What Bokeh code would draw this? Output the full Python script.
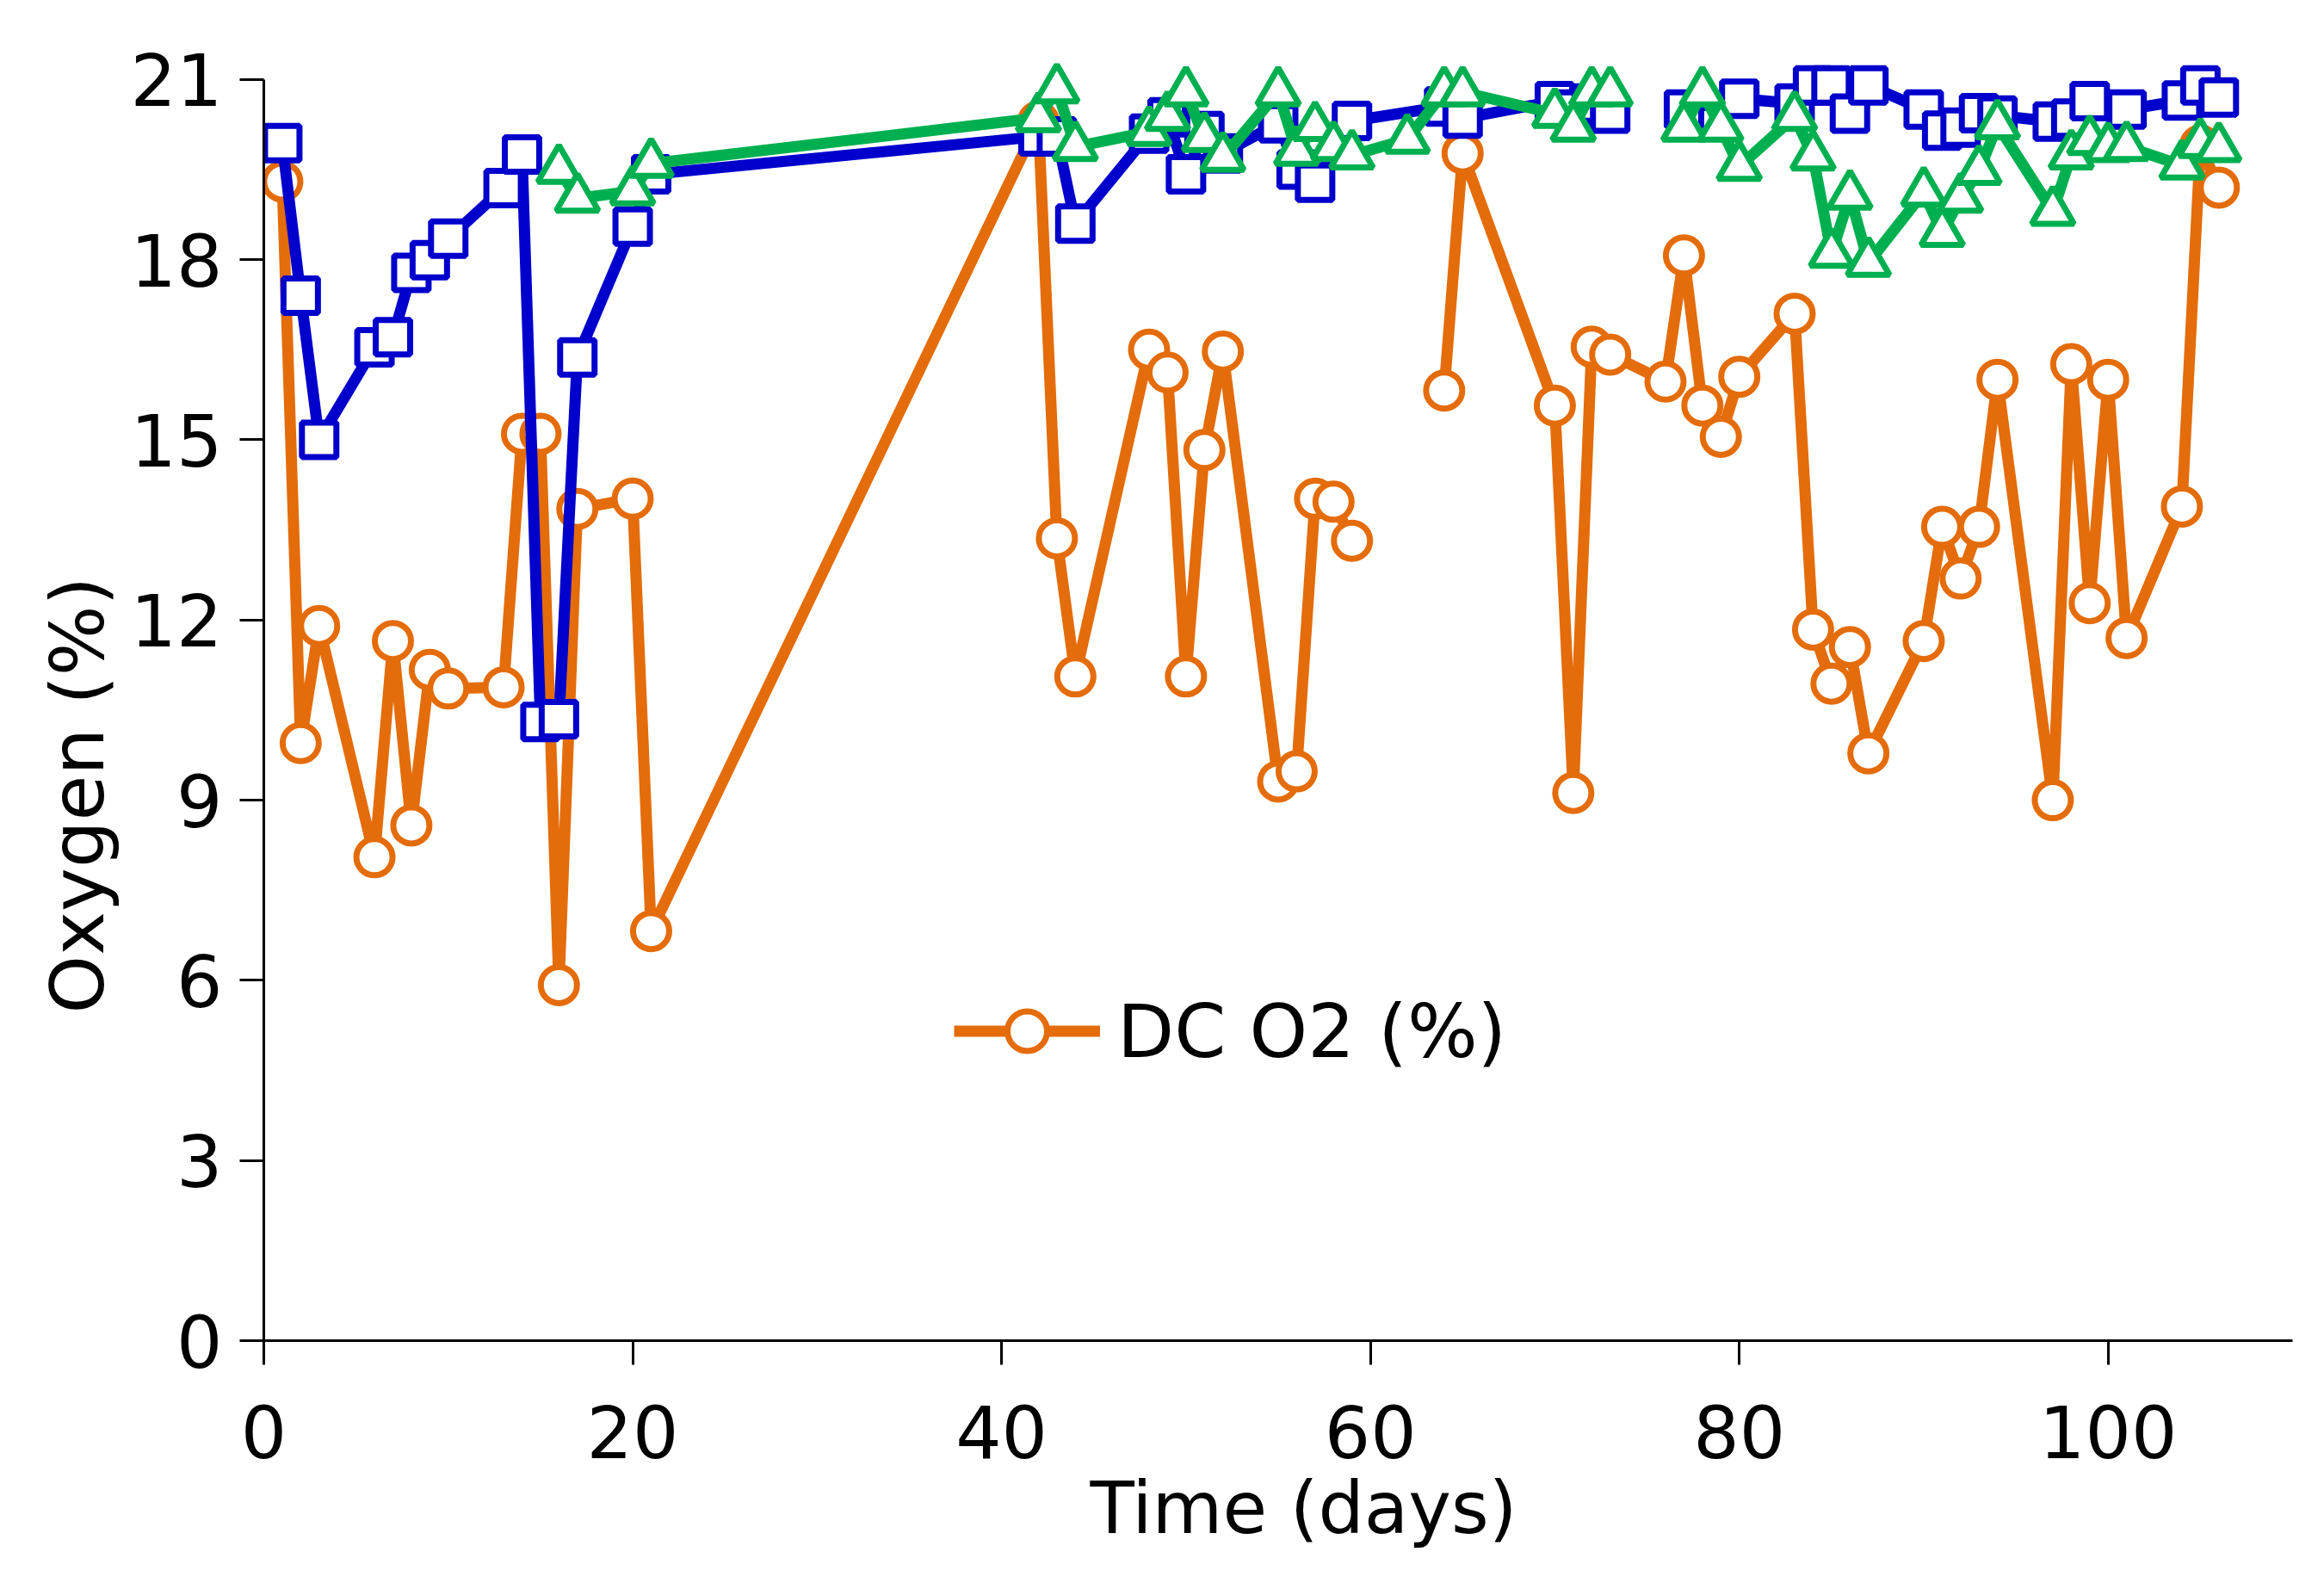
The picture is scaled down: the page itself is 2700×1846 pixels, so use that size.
from bokeh.plotting import figure
from bokeh.models import Range1d, FixedTicker, Title
from bokeh.embed import file_html
from bokeh.resources import INLINE

nan = float("nan")

# DC O2 (%) - orange circles (nan = break in the line)
dc_days = [1, 2, 3, 6, 7, 8, 9, 10, 13, 14, 15, 16, 17, 20, 21, 42, 43, 44, 48, 49,
           50, 51, 52, 55, 56, 57, 58, 59, 62, 64, 65, 70, 71, 72, 73, 76, 77, 78, 79, 80,
           83, 84, 85, 86, 87, 90, 91, 92, 93, 94, 97, 98, 99, 100, 101, 104, 105, 106]
dc_o2 = [19.3, 9.95, 11.9, 8.05, 11.65, 8.58, 11.17, 10.86, 10.88, 15.1, 15.1, 5.92, 13.85, 14.02, 6.82, 20.3, 13.36, 11.06, 16.5, 16.12,
         11.06, 14.83, 16.47, 9.31, 9.48, 14.02, 13.97, 13.32, nan, 15.82, 19.77, 15.57, 9.12, 16.55, 16.42, 15.97, 18.07, 15.57, 15.05, 16.05,
         17.1, 11.84, 10.94, 11.55, 9.78, 11.65, 13.55, 12.69, 13.55, 16.0, 9.0, 16.26, 12.28, 16.0, 11.7, 13.89, 19.9, 19.2]

# blue squares
sq_days = [1, 2, 3, 6, 7, 8, 9, 10, 13, 14, 15, 16, 17, 20, 21, 42, 43, 44, 48, 49,
           50, 51, 52, 55, 56, 57, 59, 64, 65, 70, 71, 72, 73, 75, 77, 80, 83, 84, 85, 86,
           87, 90, 91, 92, 93, 94, 97, 98, 99, 101, 104, 105, 106]
sq_o2 = [19.94, 17.4, 15.0, 16.54, 16.71, 17.78, 17.99, 18.35, 19.19, 19.75, 10.3, 10.35, 16.37, 18.55, 19.42, 20.05, 20.05, 18.6, 20.1, 20.37,
         19.42, 20.14, 19.77, 20.27, 19.5, 19.28, 20.31, 20.55, 20.35, 20.64, 20.5, 20.6, 20.43, nan, 20.5, 20.68, 20.6, 20.9, 20.9, 20.43,
         20.9, 20.5, 20.15, 20.2, 20.44, 20.4, 20.3, 20.35, 20.64, 20.5, 20.65, 20.9, 20.7]

# green triangles
tri_days = [16, 17, 20, 21, 42, 43, 44, 48, 49, 50, 51, 52, 55, 56, 57, 58, 59, 62, 64, 65,
            70, 71, 72, 73, 75, 77, 78, 79, 80, 83, 84, 85, 86, 87, 90, 91, 92, 93, 94, 97,
            98, 99, 100, 101, 104, 105, 106]
tri_o2 = [19.5, 19.02, 19.14, 19.6, 20.36, 20.84, 19.88, 20.13, 20.38, 20.79, 20.03, 19.7, 20.79, 19.8, 20.21, 19.88, 19.74, 20.0, 20.79, 20.79,
          20.43, 20.2, 20.79, 20.79, nan, 20.2, 20.79, 20.2, 19.55, 20.38, 19.72, 18.1, 19.07, 17.95, 19.12, 18.45, 19.02, 19.48, 20.24, 18.8,
          19.74, 19.98, 19.86, 19.88, 19.57, 19.93, 19.86]

x_ticks = [0, 20, 40, 60, 80, 100]
y_ticks = [0, 3, 6, 9, 12, 15, 18, 21]

ORANGE = "#E46C0A"
BLUE = "#0000CC"
GREEN = "#00B050"
FONT = "DejaVu Sans"

p = figure(width=2684, height=1830, output_backend="svg", toolbar_location=None,
           x_range=Range1d(0, 110), y_range=Range1d(0, 21.7),
           min_border_left=306, min_border_right=21, min_border_top=43, min_border_bottom=273)
p.outline_line_color = None
p.grid.visible = False
p.background_fill_color = "white"
p.border_fill_color = "white"

for ax in (p.xaxis, p.yaxis):
    ax.axis_line_width = 3
    ax.axis_line_color = "black"
    ax.major_tick_line_width = 3
    ax.major_tick_line_color = "black"
    ax.major_tick_out = 28
    ax.major_tick_in = 0
    ax.minor_tick_out = 0
    ax.minor_tick_in = 0
    ax.major_label_text_font = FONT
    ax.major_label_text_font_size = "84px"
    ax.major_label_text_color = "black"

p.xaxis.ticker = FixedTicker(ticks=x_ticks)
p.yaxis.ticker = FixedTicker(ticks=y_ticks)
p.yaxis.bounds = (0, 21)
p.xaxis.major_label_standoff = 46
p.yaxis.major_label_standoff = 20

p.line(dc_days, dc_o2, line_color=ORANGE, line_width=13, line_join="round", legend_label="DC O2 (%)")
p.scatter(dc_days, dc_o2, marker="circle", size=42, line_color=ORANGE, line_width=7,
          fill_color="white", legend_label="DC O2 (%)")

p.line(sq_days, sq_o2, line_color=BLUE, line_width=13, line_join="round")
p.scatter(sq_days, sq_o2, marker="square", size=40, line_color=BLUE, line_width=7, fill_color="white")

p.line(tri_days, tri_o2, line_color=GREEN, line_width=13, line_join="round")
p.scatter(tri_days, tri_o2, marker="triangle", size=49, line_color=GREEN, line_width=7, fill_color="white")

p.legend.location = (802, 302)
p.legend.padding = 0
p.legend.margin = 0
p.legend.spacing = 0
p.legend.glyph_width = 170
p.legend.glyph_height = 115
p.legend.label_standoff = 20
p.legend.label_text_font = FONT
p.legend.label_text_font_size = "86px"
p.legend.label_text_color = "black"
p.legend.border_line_alpha = 0
p.legend.background_fill_alpha = 0

p.add_layout(Title(text="Time (days)", align="left", offset=960, standoff=8,
                   text_font=FONT, text_font_size="84px", text_font_style="normal",
                   text_color="black"), "below")
p.add_layout(Title(text="Oxygen (%)", align="left", offset=380, standoff=18,
                   text_font=FONT, text_font_size="86px", text_font_style="normal",
                   text_color="black"), "left")

open("out.html", "w").write(file_html(p, INLINE))
